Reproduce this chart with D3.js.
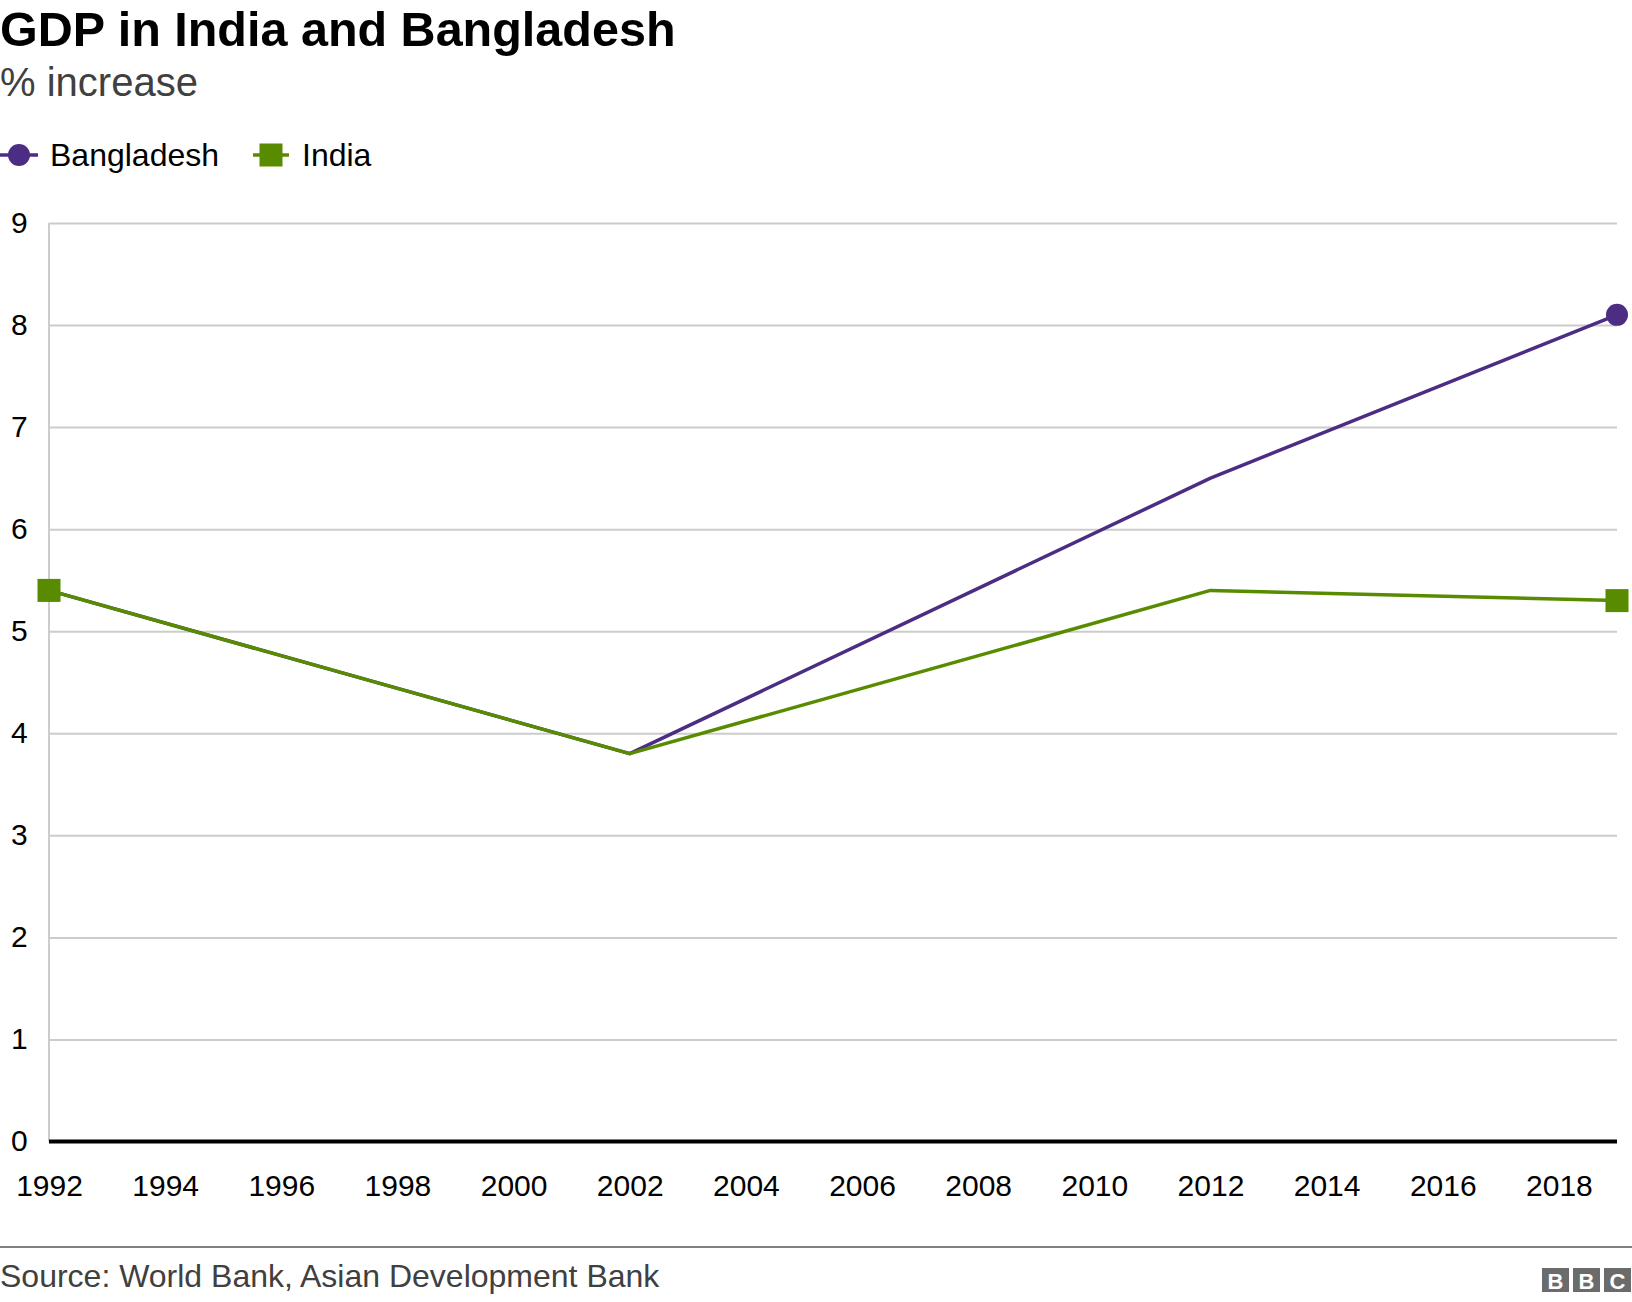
<!DOCTYPE html>
<html>
<head>
<meta charset="utf-8">
<script src="https://cdn.jsdelivr.net/npm/d3@7"></script>
<style>
  body { margin: 0; background: #fff; }
  svg { display: block; font-family: "Liberation Sans", Arial, sans-serif; }
</style>
</head>
<body>
<svg></svg>
<script>
let years = [1992, 2002, 2012, 2019];
let bangladesh = [5.4, 3.8, 6.5, 8.1];
let india = [5.4, 3.8, 5.4, 5.3];
let xTicks = [1992, 1994, 1996, 1998, 2000, 2002, 2004, 2006, 2008, 2010, 2012, 2014, 2016, 2018];
let yTicks = [0, 1, 2, 3, 4, 5, 6, 7, 8, 9];

let width = 1632, height = 1302;
let plotLeft = 49, plotRight = 1617, plotTop = 223, plotBottom = 1141.5;
let purple = "#4b2e83", green = "#588b00";

let svg = d3.select("svg")
  .attr("width", width)
  .attr("height", height);

let xScale = d3.scaleLinear().domain([1992, 2019]).range([plotLeft, plotRight]);
let yScale = d3.scaleLinear().domain([0, 9]).range([plotBottom, plotTop]);

// titles
svg.append("text")
  .attr("x", 0).attr("y", 46)
  .attr("font-size", 48.5).attr("font-weight", "bold")
  .attr("fill", "#000")
  .text("GDP in India and Bangladesh");

svg.append("text")
  .attr("x", 0).attr("y", 96)
  .attr("font-size", 40)
  .attr("fill", "#404040")
  .text("% increase");

// legend
let legend = svg.append("g").attr("transform", "translate(0,155)");
legend.append("line").attr("x1", 0).attr("x2", 38).attr("stroke", purple).attr("stroke-width", 3.5);
legend.append("circle").attr("cx", 19).attr("r", 11).attr("fill", purple);
legend.append("text").attr("x", 50).attr("y", 11).attr("font-size", 32).text("Bangladesh");
legend.append("line").attr("x1", 253).attr("x2", 289).attr("stroke", green).attr("stroke-width", 3.5);
legend.append("rect").attr("x", 271 - 11.5).attr("y", -11.5).attr("width", 23).attr("height", 23).attr("fill", green);
legend.append("text").attr("x", 302).attr("y", 11).attr("font-size", 32).text("India");

// grid
let yAxis = d3.axisLeft(yScale)
  .tickValues(yTicks)
  .tickSize(-(plotRight - plotLeft))
  .tickFormat(d3.format("d"));

svg.append("g")
  .attr("transform", `translate(${plotLeft},0)`)
  .call(yAxis)
  .call(g => g.select(".domain").remove())
  .call(g => g.selectAll(".tick line").attr("stroke", "#cccccc").attr("stroke-width", 2))
  .call(g => g.selectAll(".tick text")
    .attr("x", 11 - plotLeft)
    .attr("dy", "0.3em")
    .attr("text-anchor", "start")
    .attr("font-size", 30)
    .attr("font-family", "Liberation Sans, Arial, sans-serif")
    .attr("fill", "#000"));

svg.append("line")
  .attr("x1", plotLeft).attr("x2", plotLeft)
  .attr("y1", plotTop).attr("y2", plotBottom)
  .attr("stroke", "#cccccc").attr("stroke-width", 2);

let xAxis = d3.axisBottom(xScale)
  .tickValues(xTicks)
  .tickSize(0)
  .tickPadding(33)
  .tickFormat(d3.format("d"));

svg.append("g")
  .attr("transform", `translate(0,${plotBottom})`)
  .call(xAxis)
  .call(g => g.select(".domain").attr("stroke", "#000").attr("stroke-width", 4).attr("d", `M${plotLeft},0H${plotRight}`))
  .call(g => g.selectAll(".tick text")
    .attr("font-size", 30)
    .attr("font-family", "Liberation Sans, Arial, sans-serif")
    .attr("fill", "#000"));

// lines
let series = [
  { name: "Bangladesh", values: bangladesh, color: purple, shape: "circle" },
  { name: "India", values: india, color: green, shape: "square" }
];

let line = d3.line()
  .x((d, i) => xScale(years[i]))
  .y(d => yScale(d));

series.forEach(s => {
  svg.append("path")
    .datum(s.values)
    .attr("fill", "none")
    .attr("stroke", s.color)
    .attr("stroke-width", 3.5)
    .attr("stroke-linejoin", "round")
    .attr("d", line);

  let ends = [0, s.values.length - 1];
  if (s.shape === "circle") {
    svg.selectAll(null)
      .data(ends)
      .enter()
      .append("circle")
      .attr("cx", i => xScale(years[i]))
      .attr("cy", i => yScale(s.values[i]))
      .attr("r", 11)
      .attr("fill", s.color);
  } else {
    svg.selectAll(null)
      .data(ends)
      .enter()
      .append("rect")
      .attr("x", i => xScale(years[i]) - 11.5)
      .attr("y", i => yScale(s.values[i]) - 11.5)
      .attr("width", 23)
      .attr("height", 23)
      .attr("fill", s.color);
  }
});

// footer
svg.append("line")
  .attr("x1", 0).attr("x2", width)
  .attr("y1", 1247).attr("y2", 1247)
  .attr("stroke", "#808080").attr("stroke-width", 2);

svg.append("text")
  .attr("x", 0).attr("y", 1287)
  .attr("font-size", 32)
  .attr("fill", "#404040")
  .text("Source: World Bank, Asian Development Bank");

let logo = svg.append("g").attr("transform", "translate(1542,1268)");
["B", "B", "C"].forEach((letter, i) => {
  logo.append("rect")
    .attr("x", i * 31).attr("y", 0)
    .attr("width", 27).attr("height", 24)
    .attr("fill", "#6b6b6b");
  logo.append("text")
    .attr("x", i * 31 + 13.5).attr("y", 20.5)
    .attr("text-anchor", "middle")
    .attr("font-size", 22).attr("font-weight", "bold")
    .attr("fill", "#fff")
    .text(letter);
});
</script>
</body>
</html>
